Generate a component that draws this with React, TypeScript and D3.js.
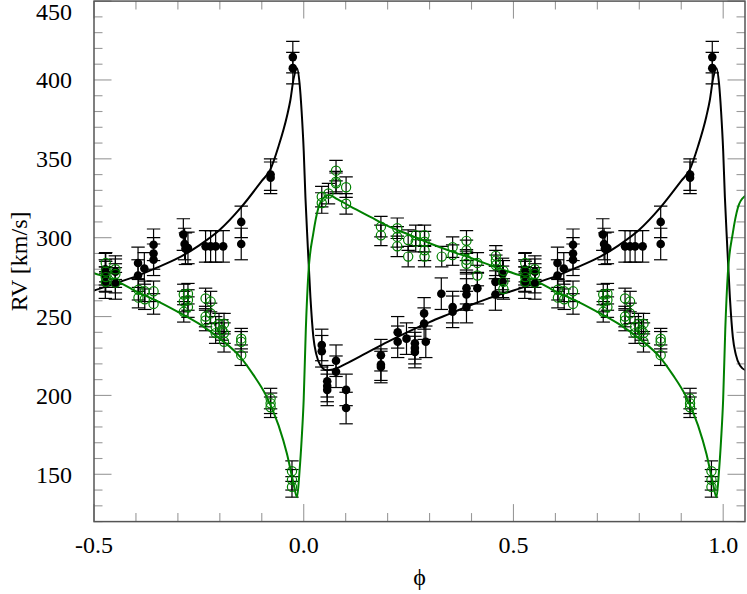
import * as d3 from "d3";

// primary (filled black) radial velocities, phase-folded
const primaryPhase = [
  0.043, 0.043, 0.056, 0.056, 0.056, 0.077, 0.077, 0.101, 0.101, 0.184, 0.184, 0.184,
  0.224, 0.224, 0.245, 0.265, 0.265, 0.265, 0.287, 0.287, 0.291, 0.328, 0.355, 0.355,
  0.388, 0.388, 0.388, 0.414, 0.457, 0.457, 0.474, 0.474, 0.527, 0.527, 0.527, 0.551,
  0.551, 0.605, 0.605, 0.62, 0.642, 0.642, 0.642, 0.713, 0.716, 0.718, 0.724, 0.766,
  0.778, 0.79, 0.808, 0.851, 0.851, 0.921, 0.921, 0.974, 0.974,
];
const primaryRV = [
  232, 228, 209, 206, 203.5, 222, 215, 203.5, 192, 225.5, 219.5, 218,
  240, 234, 236, 233, 230, 227.5, 252, 245.5, 234, 264.5, 256, 253,
  268, 264, 256, 268, 272, 264, 277, 272, 280, 276, 271.5, 278.5,
  271, 284, 276, 280.5, 295.5, 290, 286, 302, 296, 293, 293.5, 294.5,
  294.5, 294.5, 294.5, 310, 296, 340, 338, 414.5, 407.5,
];
const primaryErr = 10;

// secondary (open green) radial velocities
const secondaryPhase = [
  0.043, 0.043, 0.059, 0.077, 0.077, 0.077, 0.101, 0.101, 0.184, 0.184, 0.223, 0.223,
  0.223, 0.249, 0.249, 0.267, 0.267, 0.288, 0.288, 0.288, 0.288, 0.329, 0.355, 0.355,
  0.388, 0.388, 0.388, 0.388, 0.414, 0.414, 0.458, 0.458, 0.458, 0.476, 0.476, 0.476,
  0.528, 0.528, 0.528, 0.528, 0.551, 0.551, 0.551, 0.606, 0.606, 0.621, 0.621, 0.642,
  0.642, 0.714, 0.714, 0.714, 0.724, 0.724, 0.724, 0.766, 0.766, 0.766, 0.778, 0.778,
  0.79, 0.79, 0.798, 0.805, 0.81, 0.81, 0.81, 0.851, 0.851, 0.851, 0.921, 0.921,
  0.921, 0.972, 0.972, 0.972,
];
const secondaryRV = [
  326, 322, 328, 342.5, 335.5, 334.5, 332, 321.5, 307, 301.5, 306, 300.5,
  294.5, 298.5, 288, 301.5, 297.5, 301.5, 297.5, 292, 288, 288, 294, 289,
  298, 292, 286, 283.5, 284, 276, 288.5, 285.5, 282.5, 279, 272, 267.5,
  284, 278.5, 275, 272, 280, 277, 271.5, 267, 262, 266, 261, 266,
  258, 264, 259.5, 253, 264.5, 260.5, 256, 261.5, 250, 247.5, 259.5, 252,
  243.5, 239.5, 245.5, 241.5, 245.5, 239.5, 234, 236, 234, 225.5, 198, 195,
  192.5, 152, 146.5, 142,
];
const secondaryErr = 6.5;

// orbit solutions, one period
const primaryModelPhase = [
  0.0, 0.004, 0.009, 0.016, 0.023, 0.03, 0.04, 0.055, 0.07, 0.1, 0.15, 0.2, 0.25, 0.3,
  0.35, 0.4, 0.45, 0.5, 0.55, 0.6, 0.65, 0.7, 0.75, 0.8, 0.85, 0.9, 0.92, 0.94, 0.96,
  0.968, 0.976, 0.984, 0.99, 0.995,
];
const primaryModelRV = [
  355, 326, 298, 262, 237, 226, 219, 216, 216.5, 220, 227, 234, 240.5, 246.5,
  252, 257.5, 262.5, 266.5, 271, 275.5, 281, 287, 295, 305, 319, 336, 343, 358, 377,
  387, 401, 407.5, 398, 380,
];
const secondaryModelPhase = [
  0.0, 0.005, 0.011, 0.023, 0.035, 0.05, 0.06, 0.08, 0.11, 0.16, 0.2, 0.25, 0.3, 0.35,
  0.4, 0.45, 0.5, 0.55, 0.6, 0.65, 0.7, 0.75, 0.8, 0.85, 0.88, 0.91, 0.94, 0.96, 0.975,
  0.984, 0.99, 0.995,
];
const secondaryModelRV = [
  198, 242, 277, 303, 319, 326, 327, 324.5, 320, 313, 307.5, 302, 296.5, 291.5,
  287, 282, 277.5, 273, 266, 260, 253, 245.5, 236, 224, 213, 200, 181, 163, 145,
  135.5, 152, 172,
];

const xTickLabels = ["-0.5", "0.0", "0.5", "1.0"];
const yTickLabels = [150, 200, 250, 300, 350, 400, 450];

const W = 747,
  H = 594;
const left = 94,
  right = 745,
  top = 1.1,
  bottom = 521.6;
const font = "Liberation Serif, Times New Roman, DejaVu Serif, serif";

// repeat phased values over the plotted range
function fold(phase: number[], rv: number[], lo: number, hi: number) {
  const out: [number, number][] = [];
  for (const k of [-1, 0, 1]) {
    phase.forEach((p, i) => {
      const q = p + k;
      if (q >= lo && q <= hi) out.push([q, rv[i]]);
    });
  }
  return out.sort((a, b) => a[0] - b[0]);
}

export default function App() {
  const x = d3.scaleLinear().domain([-0.5, 1.052]).range([left, right]);
  const y = d3.scaleLinear().domain([120, 450]).range([bottom, top]);

  const line = d3
    .line<[number, number]>()
    .x((d) => x(d[0]))
    .y((d) => y(d[1]))
    .curve(d3.curveMonotoneX);

  const pModel = fold(primaryModelPhase, primaryModelRV, -0.6, 1.15);
  const sModel = fold(secondaryModelPhase, secondaryModelRV, -0.6, 1.15);
  // observations are shown once per phase between -0.5 and 1.0
  const pData = fold(primaryPhase, primaryRV, -0.5, 1.0);
  const sData = fold(secondaryPhase, secondaryRV, -0.5, 1.0);

  const xMinor = d3.range(-5, 11).map((i) => i / 10);
  const yMinor = d3.range(12, 46).map((i) => i * 10);

  const errBar = (d: [number, number], e: number, key: string) => {
    const cx = x(d[0]);
    const y1 = y(d[1] + e);
    const y2 = y(d[1] - e);
    return (
      <g key={key}>
        <line x1={cx} x2={cx} y1={y1} y2={y2} />
        <line x1={cx - 6.7} x2={cx + 6.7} y1={y1} y2={y1} />
        <line x1={cx - 6.7} x2={cx + 6.7} y1={y2} y2={y2} />
      </g>
    );
  };

  return (
    <svg
      width={W}
      height={H}
      style={{ position: "absolute", left: 0, top: 0, background: "#fff", fontFamily: font }}
    >
      <defs>
        <clipPath id="plot">
          <rect x={left} y={top} width={right - left} height={bottom - top} />
        </clipPath>
      </defs>

      {/* ticks on all four sides, pointing inwards */}
      <g stroke="#999" strokeWidth={1.1}>
        {xMinor.map((t) => {
          const major = Math.abs(t * 2 - Math.round(t * 2)) < 1e-6;
          const len = major ? 17.5 : 8.5;
          return (
            <g key={"x" + t}>
              <line x1={x(t)} x2={x(t)} y1={bottom} y2={bottom - len} />
              <line x1={x(t)} x2={x(t)} y1={top} y2={top + len} />
            </g>
          );
        })}
        {yMinor.map((t) => {
          const len = t % 50 === 0 ? 17.5 : 8.5;
          return (
            <g key={"y" + t}>
              <line x1={left} x2={left + len} y1={y(t)} y2={y(t)} />
              <line x1={right} x2={right - len} y1={y(t)} y2={y(t)} />
            </g>
          );
        })}
      </g>

      <g clipPath="url(#plot)">
        <g stroke="#000" strokeWidth={1.2}>
          {pData.map((d, i) => errBar(d, primaryErr, "pe" + i))}
          {sData.map((d, i) => errBar(d, secondaryErr, "se" + i))}
        </g>
        <path d={line(pModel) ?? ""} fill="none" stroke="#000" strokeWidth={2} />
        <path d={line(sModel) ?? ""} fill="none" stroke="#008000" strokeWidth={2} />
        {pData.map((d, i) => (
          <circle key={"p" + i} cx={x(d[0])} cy={y(d[1])} r={4.3} fill="#000" />
        ))}
        {sData.map((d, i) => (
          <circle
            key={"s" + i}
            cx={x(d[0])}
            cy={y(d[1])}
            r={4.6}
            fill="none"
            stroke="#008000"
            strokeWidth={1.2}
          />
        ))}
      </g>

      <rect
        x={left}
        y={top}
        width={right - left}
        height={bottom - top}
        fill="none"
        stroke="#555"
        strokeWidth={1.5}
      />

      <g fontSize={24} fill="#000" style={{ fontFamily: font }}>
        {xTickLabels.map((s) => (
          <text key={s} x={x(+s)} y={552.5} textAnchor="middle">
            {s}
          </text>
        ))}
        {yTickLabels.map((v) => (
          <text key={v} x={72} y={Math.max(y(v) + 8.5, 20)} textAnchor="end">
            {v}
          </text>
        ))}
        <text x={(left + right) / 2} y={585} textAnchor="middle">
          ϕ
        </text>
        <text transform={`translate(27, ${(top + bottom) / 2}) rotate(-90)`} textAnchor="middle">
          RV [km/s]
        </text>
      </g>
    </svg>
  );
}
